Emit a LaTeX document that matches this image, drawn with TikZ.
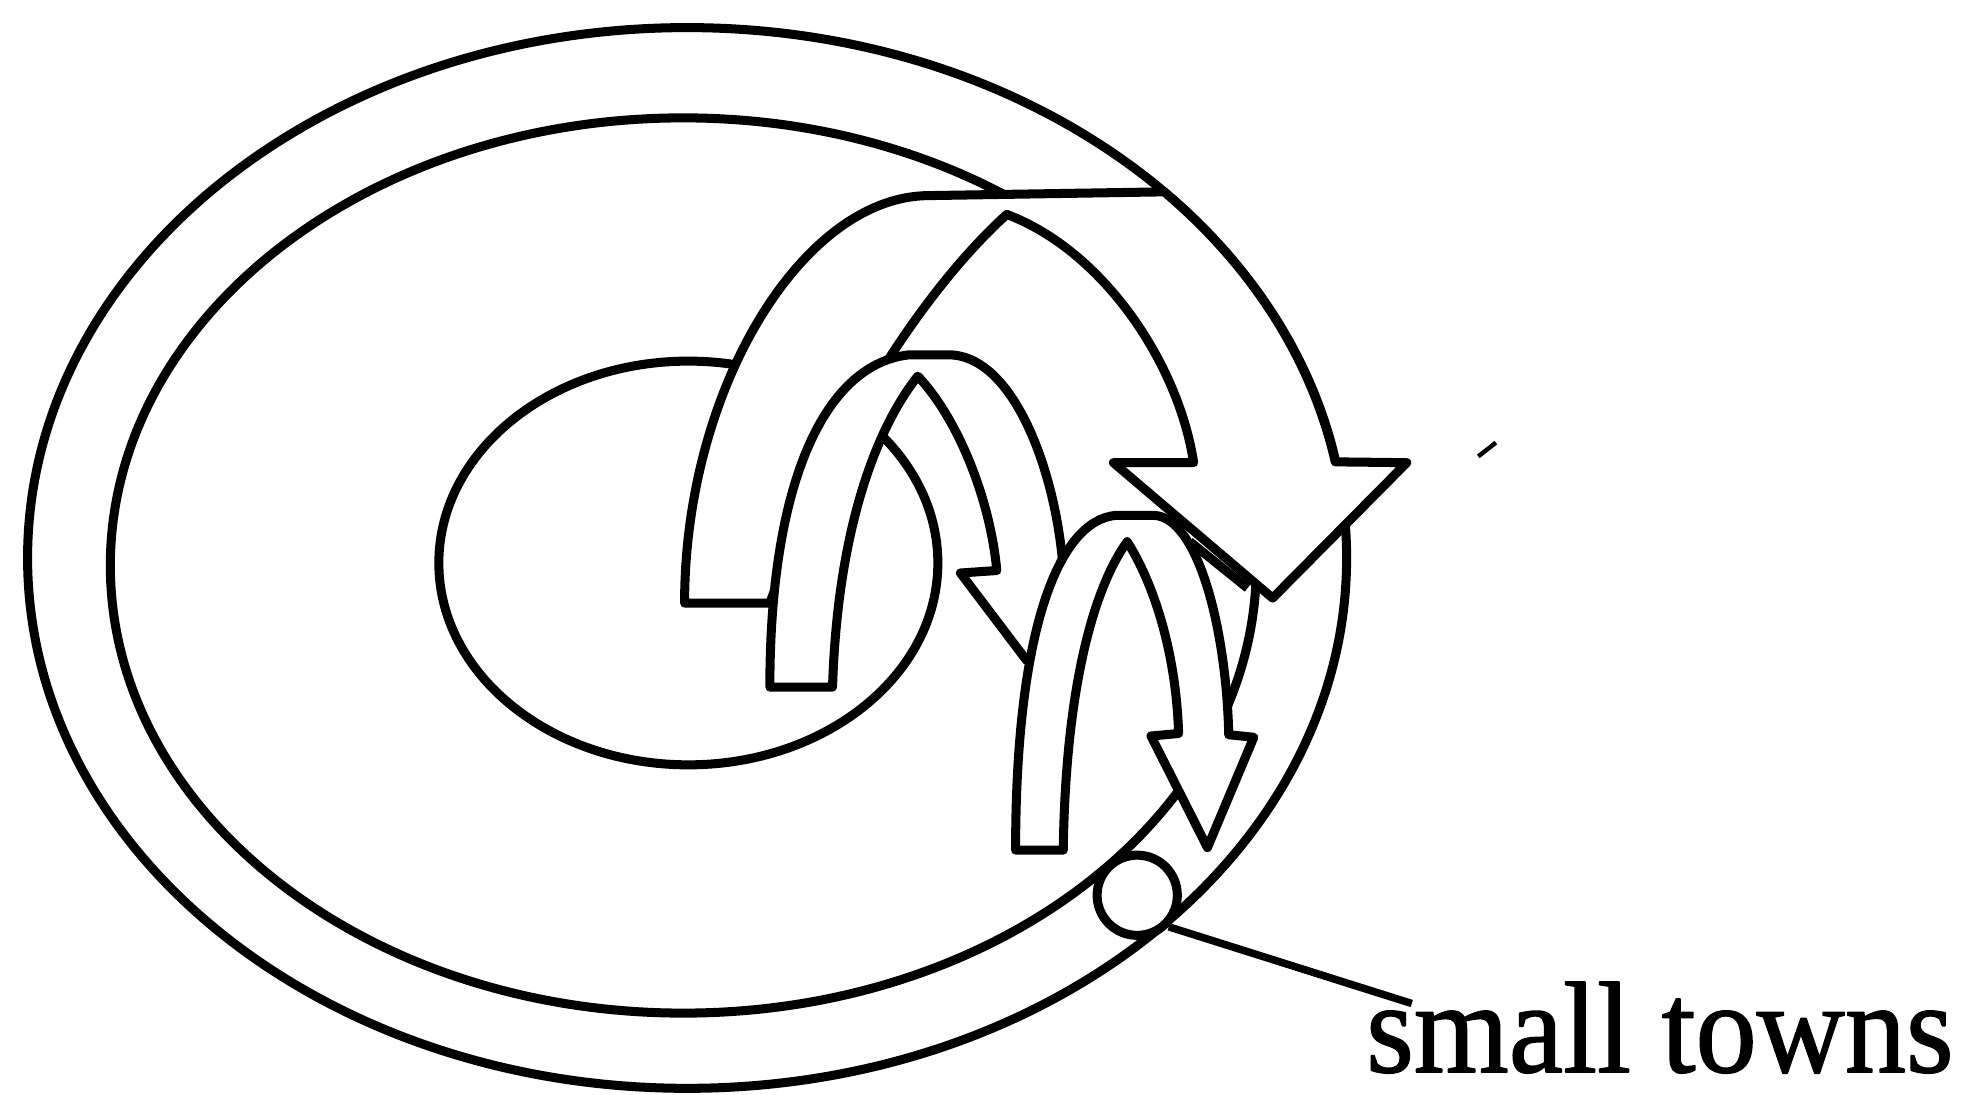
\documentclass[tikz,border=0pt]{standalone}
\usepackage{fontspec}
\setmainfont{Liberation Serif}
\newfontfamily\townfont{Liberation Serif}[FakeBold=1.2]

\begin{document}
\begin{tikzpicture}[x=0.1mm,y=-0.1mm,line join=round,
  ring/.style={line width=0.72mm},
  band/.style={line width=0.72mm,fill=white},
  town/.style={circle,draw,line width=0.72mm,fill=white,minimum size=6.4mm,inner sep=0pt},
  leader/.style={line width=0.6mm},
  townlabel/.style={anchor=base west,inner sep=0pt,font=\townfont\fontsize{29.5}{30}\selectfont}]
\path[use as bounding box] (0,0) rectangle (1568,873);
\draw[ring] (548,445) ellipse [x radius=526,y radius=423];
\draw[ring] (545,451) ellipse [x radius=457,y radius=357];
\draw[ring] (549,449) ellipse [x radius=199,y radius=161];
\filldraw[band] (546,481) .. controls (546,310) and (640,157) .. (740,156) -- (928.5,153)
  arc[start angle=-43.6,end angle=-10.4,x radius=526,y radius=423]
  -- (1122,369) -- (1015,477) -- (888,369) -- (952,369)
  .. controls (940,290) and (880,200) .. (803,171)
  .. controls (765,205) and (680,300) .. (614,481) -- cycle;
\filldraw[band] (614,548) .. controls (614,380) and (660,290) .. (725,283) -- (758,283)
  .. controls (810,285) and (843,380) .. (848,455)
  -- (876,455) -- (819,527) -- (766,457) -- (795,455)
  .. controls (790,400) and (765,335) .. (732,300)
  .. controls (700,340) and (668,420) .. (664,548) -- cycle;
\filldraw[band] (810,678) .. controls (810,500) and (845,415) .. (890,411) -- (920,411)
  .. controls (955,412) and (978,500) .. (980,586)
  -- (1000,588) -- (963,676) -- (918,587) -- (940,585)
  .. controls (938,520) and (920,465) .. (899,432)
  .. controls (875,465) and (850,540) .. (848,678) -- cycle;
\draw[ring] (949,432) -- (995,469);
\node[town] (town) at (907,714) {};
\node[townlabel] (towns) at (1089,855) {\scalebox{0.94}[1]{small towns}};
\draw[leader] (town.-45) -- ([shift={(37,18)}]towns.north west);
\draw[line width=0.35mm] (1179,364) -- (1193,353);
\end{tikzpicture}
\end{document}
